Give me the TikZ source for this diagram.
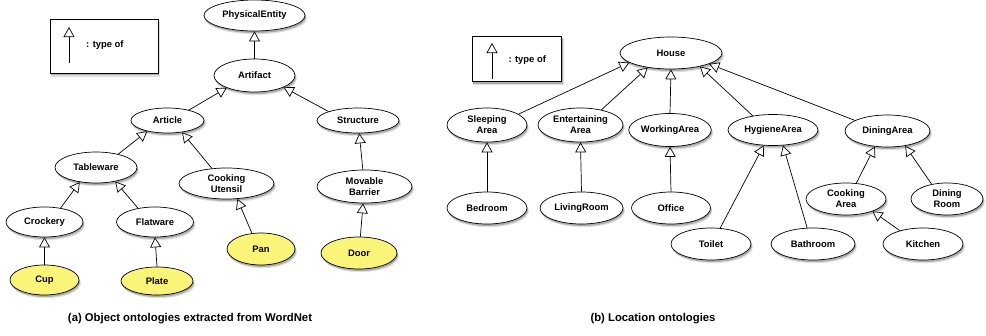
\documentclass[tikz,border=0pt]{standalone}
\usepackage{fontspec}
\setmainfont{Liberation Sans}
\usetikzlibrary{shapes.geometric,arrows.meta,shadows}
\definecolor{leafyellow}{RGB}{250,244,120}
\definecolor{shadowgray}{RGB}{80,80,80}
\tikzset{
  softshadow/.style={
    general shadow={shadow xshift=1.5pt, shadow yshift=-3pt, shadow scale=1.01, opacity=0.18, fill=shadowgray},
    general shadow={shadow xshift=1pt, shadow yshift=-2pt, opacity=0.35, fill=shadowgray}},
  onto/.style={ellipse, draw=black, line width=0.7pt, fill=white, inner sep=0pt,
    align=center, font=\bfseries\fontsize{9.4}{11}\selectfont, softshadow},
  leaf/.style={onto, fill=leafyellow},
  sz/.style 2 args={minimum width=#1pt, minimum height=#2pt},
  isa/.style={draw=black, line width=0.7pt, -{Triangle[open, length=10pt, width=11pt, fill=white]}},
  legendbox/.style={rectangle, draw=black, line width=0.7pt, fill=white, inner sep=0pt, softshadow},
  legendtext/.style={anchor=west, inner sep=0pt, font=\bfseries\fontsize{9.4}{11}\selectfont},
  caption/.style={inner sep=0pt, font=\bfseries\fontsize{11.3}{13}\selectfont}
}
\begin{document}
\begin{tikzpicture}[x=1pt, y=-1pt]
\useasboundingbox[fill=white] (0,0) rectangle (986,335);

% ---------- legend (a) ----------
\node[legendbox, sz={108}{54}] (leg1) at (104,46.3) {};
\coordinate (l1a) at (69,63);
\coordinate (l1b) at (69,27);
\draw[isa] (l1a) -- (l1b);
\node[legendtext] (l1t) at (86,45) {: type of};

% ---------- tree (a) ----------
\node[onto, sz={101}{31}] (pe) at (254.5,15.5) {PhysicalEntity};
\node[onto, sz={81}{33}] (artifact) at (254.5,75.5) {Artifact};
\node[onto, sz={73}{25}] (article) at (167.5,120.5) {Article};
\node[onto, sz={82}{25}] (structure) at (358,120.5) {Structure};
\node[onto, sz={82}{31}] (tableware) at (96,167.5) {Tableware};
\node[onto, sz={95}{31}] (cu) at (226.5,183.5) {Cooking\\Utensil};
\node[onto, sz={77}{30}] (crockery) at (44.5,222) {Crockery};
\node[onto, sz={77}{30}] (flatware) at (155,222) {Flatware};
\node[leaf, sz={68}{32}] (pan) at (261,249) {Pan};
\node[leaf, sz={69}{30}] (cup) at (44.5,280) {Cup};
\node[leaf, sz={72}{28}] (plate) at (157,281) {Plate};
\node[onto, sz={95}{33}] (mb) at (364.5,186.5) {Movable\\Barrier};
\node[leaf, sz={76}{32}] (door) at (359,253) {Door};

\draw[isa] (artifact.north) -- (pe.south);
\draw[isa] (article.26) -- (artifact.204);
\draw[isa] (structure.163) -- (artifact.338);
\draw[isa] (tableware.31) -- (article.208);
\draw[isa] (cu.134) -- (article.321);
\draw[isa] (crockery.41.5) -- (tableware.222);
\draw[isa] (flatware.141.5) -- (tableware.324);
\draw[isa] (cup.north) -- (crockery.south);
\draw[isa] (plate.north) -- (flatware.south);
\draw[isa] (pan.120) -- (cu.305);
\draw[isa] (mb) -- (structure);
\draw[isa] (door) -- (mb);

\node[caption] (capa) at (190,319) {(a) Object ontologies extracted from WordNet};

% ---------- legend (b) ----------
\node[legendbox, sz={89.5}{45.7}] (leg2) at (517,58.8) {};
\coordinate (l2a) at (492,79);
\coordinate (l2b) at (492,43);
\draw[isa] (l2a) -- (l2b);
\node[legendtext] (l2t) at (508.3,60) {: type of};

% ---------- tree (b) ----------
\node[onto, sz={102}{32}] (house) at (671,53) {House};
\node[onto, sz={80}{34}] (sleeping) at (487,125) {Sleeping\\Area};
\node[onto, sz={85}{34}] (entert) at (580.5,125) {Entertaining\\Area};
\node[onto, sz={80}{33}] (working) at (670,130) {WorkingArea};
\node[onto, sz={90}{31}] (hygiene) at (773,130) {HygieneArea};
\node[onto, sz={85}{32}] (dining) at (887.5,131) {DiningArea};
\node[onto, sz={80}{32}] (bedroom) at (487,208) {Bedroom};
\node[onto, sz={83}{32}] (living) at (581.5,208) {LivingRoom};
\node[onto, sz={79}{32}] (office) at (671,208) {Office};
\node[onto, sz={80}{32}] (toilet) at (711,244) {Toilet};
\node[onto, sz={84}{32}] (bathroom) at (813,244) {Bathroom};
\node[onto, sz={80}{32}] (kitchen) at (923,244) {Kitchen};
\node[onto, sz={80}{32}] (cookarea) at (846,199) {Cooking\\Area};
\node[onto, sz={72}{32}] (diningroom) at (947,199) {Dining\\Room};

\draw[isa] (sleeping.19) -- (house.193);
\draw[isa] (entert.36) -- (house.212);
\draw[isa] (working.north) -- (house.south);
\draw[isa] (hygiene.145) -- (house.335.5);
\draw[isa] (dining.162) -- (house.344);
\draw[isa] (bedroom.north) -- (sleeping.south);
\draw[isa] (living.north) -- (entert.south);
\draw[isa] (office.north) -- (working.south);
\draw[isa] (toilet.60) -- (hygiene.239);
\draw[isa] (bathroom.110) -- (hygiene.303);
\draw[isa] (cookarea.57) -- (dining.231);
\draw[isa] (diningroom.136) -- (dining.320);
\draw[isa] (kitchen.150) -- (cookarea.335);

\node[caption] (capb) at (653,319) {(b) Location ontologies};
\end{tikzpicture}
\end{document}
